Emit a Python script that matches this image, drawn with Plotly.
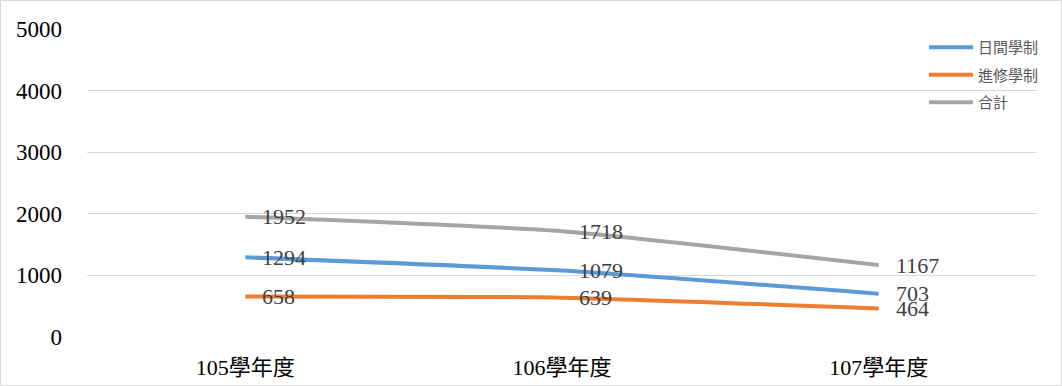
import plotly.graph_objects as go

categories = ["105學年度", "106學年度", "107學年度"]
day = [1294, 1079, 703]
evening = [658, 639, 464]
total = [1952, 1718, 1167]
series_names = ["日間學制", "進修學制", "合計"]
colors = ["#5B9BD5", "#ED7D31", "#A5A5A5"]

fig = go.Figure()
annotations = []
for i, (name, vals, col) in enumerate(zip(series_names, [day, evening, total], colors)):
    fig.add_trace(go.Scatter(
        x=categories, y=vals, name=name, mode="lines",
        line=dict(color=col, width=4, shape="spline", smoothing=0.5),
        legendgroup=f"g{i}",
    ))
    for c, v in zip(categories, vals):
        annotations.append(dict(
            x=c, y=v, xref="x", yref="y", text=str(v), showarrow=False,
            xanchor="left", yanchor="middle", xshift=15,
            font=dict(family="Liberation Serif", size=22, color="#404040"),
        ))

W, H = 1062, 386
l, r, t, b = 87, 25, 29, 49
pw, ph = W - l - r, H - t - b

fig.update_layout(
    width=W, height=H,
    margin=dict(l=l, r=r, t=t, b=b, autoexpand=False),
    paper_bgcolor="white", plot_bgcolor="white",
    showlegend=True,
    annotations=annotations,
    legend=dict(x=(924 - l) / pw, y=(337 - 31) / ph, xanchor="left", yanchor="top",
                bgcolor="rgba(0,0,0,0)", font=dict(family="Noto Sans CJK TC, sans-serif", size=15, color="#595959"),
                tracegroupgap=5, itemwidth=44),
    xaxis=dict(range=[-0.5, 2.5], showgrid=False, zeroline=False, showline=False, ticks="",
               ticklabelstandoff=15, automargin=False,
               tickfont=dict(family="Liberation Serif, Noto Sans CJK TC", size=22, color="black")),
    yaxis=dict(range=[0, 5000], tickvals=[0, 1000, 2000, 3000, 4000, 5000], showgrid=True,
               gridcolor="#D9D9D9", gridwidth=1, zeroline=False, showline=False, ticks="",
               ticklabelstandoff=24, automargin=False,
               tickfont=dict(family="Liberation Serif", size=23, color="black")),
    shapes=[dict(type="rect", xref="paper", yref="paper",
                 x0=(0.5 - l) / pw, x1=(W - 0.5 - l) / pw,
                 y0=(H - b - (H - 0.5)) / ph, y1=(H - b - 0.5) / ph,
                 line=dict(color="#D9D9D9", width=1), fillcolor="rgba(0,0,0,0)", layer="below")],
)

fig.write_html("out.html")
